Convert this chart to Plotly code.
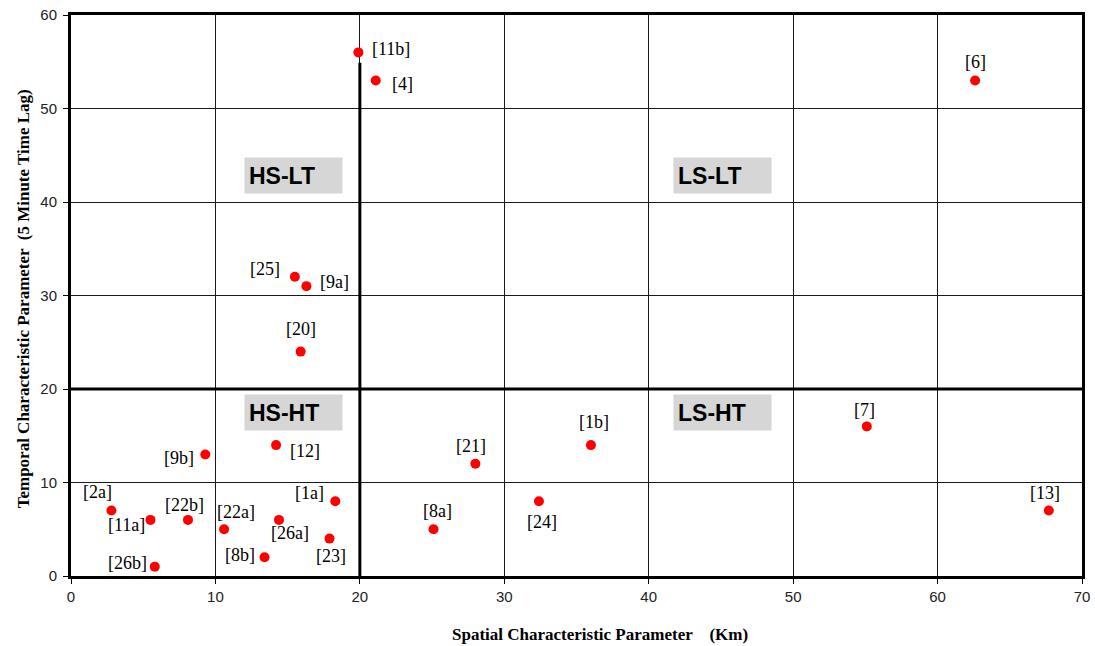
import plotly.graph_objects as go

labels = ["[11b]", "[4]", "[6]", "[25]", "[9a]", "[20]", "[12]", "[9b]", "[2a]", "[11a]",
          "[22b]", "[22a]", "[26a]", "[1a]", "[23]", "[8b]", "[26b]", "[8a]", "[21]", "[24]",
          "[1b]", "[7]", "[13]"]
spatial_km = [19.9, 21.1, 62.6, 15.5, 16.3, 15.9, 14.2, 9.3, 2.8, 5.5,
              8.1, 10.6, 14.4, 18.3, 17.9, 13.4, 5.8, 25.1, 28.0, 32.4,
              36.0, 55.1, 67.7]
temporal_lag = [56, 53, 53, 32, 31, 24, 14, 13, 7, 6,
                6, 5, 6, 8, 4, 2, 1, 5, 12, 8,
                14, 16, 7]
# label offsets in pixels (style)
label_dx = [33, 27, 0, -30, 28, 0, 29, -26, -14, -24, -3, 12, 11, -26, 1, -25, -27, 4, -4, 3, 3, -2, -4]
label_dy = [-3, 4, -18, -8, -4, -23, 6, 4, -19, 5, -15, -17, 13, -8, 17, -2, -4, -18, -18, 21, -23, -16, -18]

quadrants = ["HS-LT", "HS-HT", "LS-LT", "LS-HT"]
quad_x = [12, 12, 41.7, 41.7]
quad_y = [42.85, 17.5, 42.85, 17.5]

x_ticks = [0, 10, 20, 30, 40, 50, 60, 70]
y_ticks = [0, 10, 20, 30, 40, 50, 60]

x_title = "Spatial Characteristic Parameter &nbsp;&nbsp;&nbsp;(Km)"
y_title = "Temporal Characteristic Parameter &nbsp;(5 Minute Time Lag)"

fig = go.Figure()
fig.add_trace(go.Scatter(
    x=spatial_km, y=temporal_lag, mode="markers",
    marker=dict(color="#ff0000", size=10, line=dict(width=0)),
    showlegend=False, hoverinfo="skip"))

annotations = []
for lab, x, y, dx, dy in zip(labels, spatial_km, temporal_lag, label_dx, label_dy):
    annotations.append(dict(x=x, y=y, xref="x", yref="y", text=lab, showarrow=False,
                            xshift=dx, yshift=-dy,
                            font=dict(family="Liberation Serif", size=18, color="black")))
for q, x, y in zip(quadrants, quad_x, quad_y):
    annotations.append(dict(x=x, y=y, xref="x", yref="y", text="<b>" + q + "</b>", showarrow=False,
                            xanchor="left", yanchor="middle", align="left",
                            width=89, height=27, borderpad=4, bgcolor="#d6d6d6",
                            font=dict(family="Liberation Sans", size=23, color="black")))
annotations.append(dict(x=0.523, y=-0.104, xref="paper", yref="paper", yanchor="middle",
                        text="<b>" + x_title + "</b>", showarrow=False,
                        font=dict(family="Liberation Serif", size=17, color="black")))
annotations.append(dict(x=-0.047, y=0.494, xref="paper", yref="paper", xanchor="center", yanchor="middle",
                        textangle=-90, text="<b>" + y_title + "</b>", showarrow=False,
                        font=dict(family="Liberation Serif", size=17, color="black")))

shapes = [
    dict(type="line", x0=20, x1=20, y0=0, y1=54.9, xref="x", yref="y",
         line=dict(color="black", width=3)),
    dict(type="line", x0=0, x1=70, y0=20, y1=20, xref="x", yref="y",
         line=dict(color="black", width=3)),
]

axis_common = dict(showgrid=True, gridcolor="#1a1a1a", gridwidth=1,
                   showline=True, linecolor="black", linewidth=3, mirror=True,
                   ticks="outside", ticklen=5, tickcolor="black", tickwidth=1,
                   zeroline=False, automargin=False,
                   tickfont=dict(family="Liberation Sans", size=15, color="#222222"))

fig.update_layout(
    width=1095, height=646,
    margin=dict(l=71, r=13, t=15, b=70),
    paper_bgcolor="white", plot_bgcolor="white",
    xaxis=dict(range=[0, 70], tickvals=x_ticks, ticktext=[str(v) for v in x_ticks],
               **axis_common),
    yaxis=dict(range=[0, 60], tickvals=y_ticks, ticktext=[str(v) for v in y_ticks],
               ticklabelstandoff=3,
               **axis_common),
    annotations=annotations,
    shapes=shapes,
)

fig.write_html("out.html")
